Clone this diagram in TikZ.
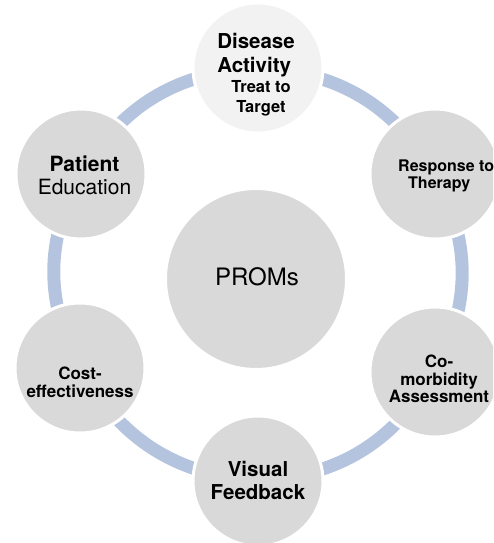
\documentclass[tikz,border=0pt]{standalone}
\usepackage{fontspec}
\setmainfont{TeX Gyre Heros}
\usetikzlibrary{backgrounds}
\definecolor{ringblue}{RGB}{180,196,222}
\definecolor{discgray}{RGB}{217,217,217}
\definecolor{disclight}{RGB}{242,242,242}
\newcommand{\setfs}[2]{\fontsize{#1}{#2}\selectfont}
\tikzset{
  disc/.style={circle, fill=discgray, draw=white, line width=3pt,
    minimum size=130pt, inner sep=0pt},
  hubdisc/.style={disc, minimum size=181pt},
  ringarc/.style={draw=ringblue, line width=13pt},
  caption/.style={inner sep=0pt, text=black, align=center},
}
\begin{document}
\begin{tikzpicture}[x=1pt,y=1pt]
\useasboundingbox (0,0) rectangle (493,-543);
\clip (0,0) rectangle (493,-543);

% hub and the six discs around it
\node[hubdisc] (hub) at (256,-279) {};
\node[disc, fill=disclight] (act) at (258,-68) {};
\node[disc] (resp) at (435,-174) {};
\node[disc] (comorb) at (435,-372) {};
\node[disc] (visual) at (258,-481) {};
\node[disc] (cost) at (80,-368) {};
\node[disc] (edu) at (81,-174) {};

% the cycle ring, running behind the discs
\begin{scope}[on background layer]
  \draw[ringarc] (act.center) to[bend left=28] (resp.center);
  \draw[ringarc] (resp.center) to[bend left=28] (comorb.center);
  \draw[ringarc] (comorb.center) to[bend left=28] (visual.center);
  \draw[ringarc] (visual.center) to[bend left=28] (cost.center);
  \draw[ringarc] (cost.center) to[bend left=28] (edu.center);
  \draw[ringarc] (edu.center) to[bend left=28] (act.center);
\end{scope}

% labels
\node[caption, font=\setfs{24}{28}] (hubT) at (257,-277) {PROMs};
\node[caption, font=\bfseries\setfs{20.5}{24}, align=left] (actA) at (256,-55) {Disease\\Activity};
\node[caption, font=\bfseries\setfs{16.5}{19.5}] (actB) at (261,-98.5) {Treat to\\Target};
\node[caption, font=\setfs{21}{23}] (eduT) at (84.5,-175.5) {\textbf{Patient}\\Education};
\node[caption, font=\bfseries\setfs{16}{16.5}, align=left, anchor=west] (respT) at (398,-176) {Response to\\\hspace*{10pt}Therapy};
\node[caption, font=\bfseries\setfs{17}{17.5}] (comorbT) at (439,-379) {Co-\\morbidity\\Assessment};
\node[caption, font=\bfseries\setfs{17}{18}] (costT) at (80,-382) {Cost-\\effectiveness};
\node[caption, font=\bfseries\setfs{20.5}{23}] (visT) at (258,-480.5) {Visual\\Feedback};
\end{tikzpicture}
\end{document}
